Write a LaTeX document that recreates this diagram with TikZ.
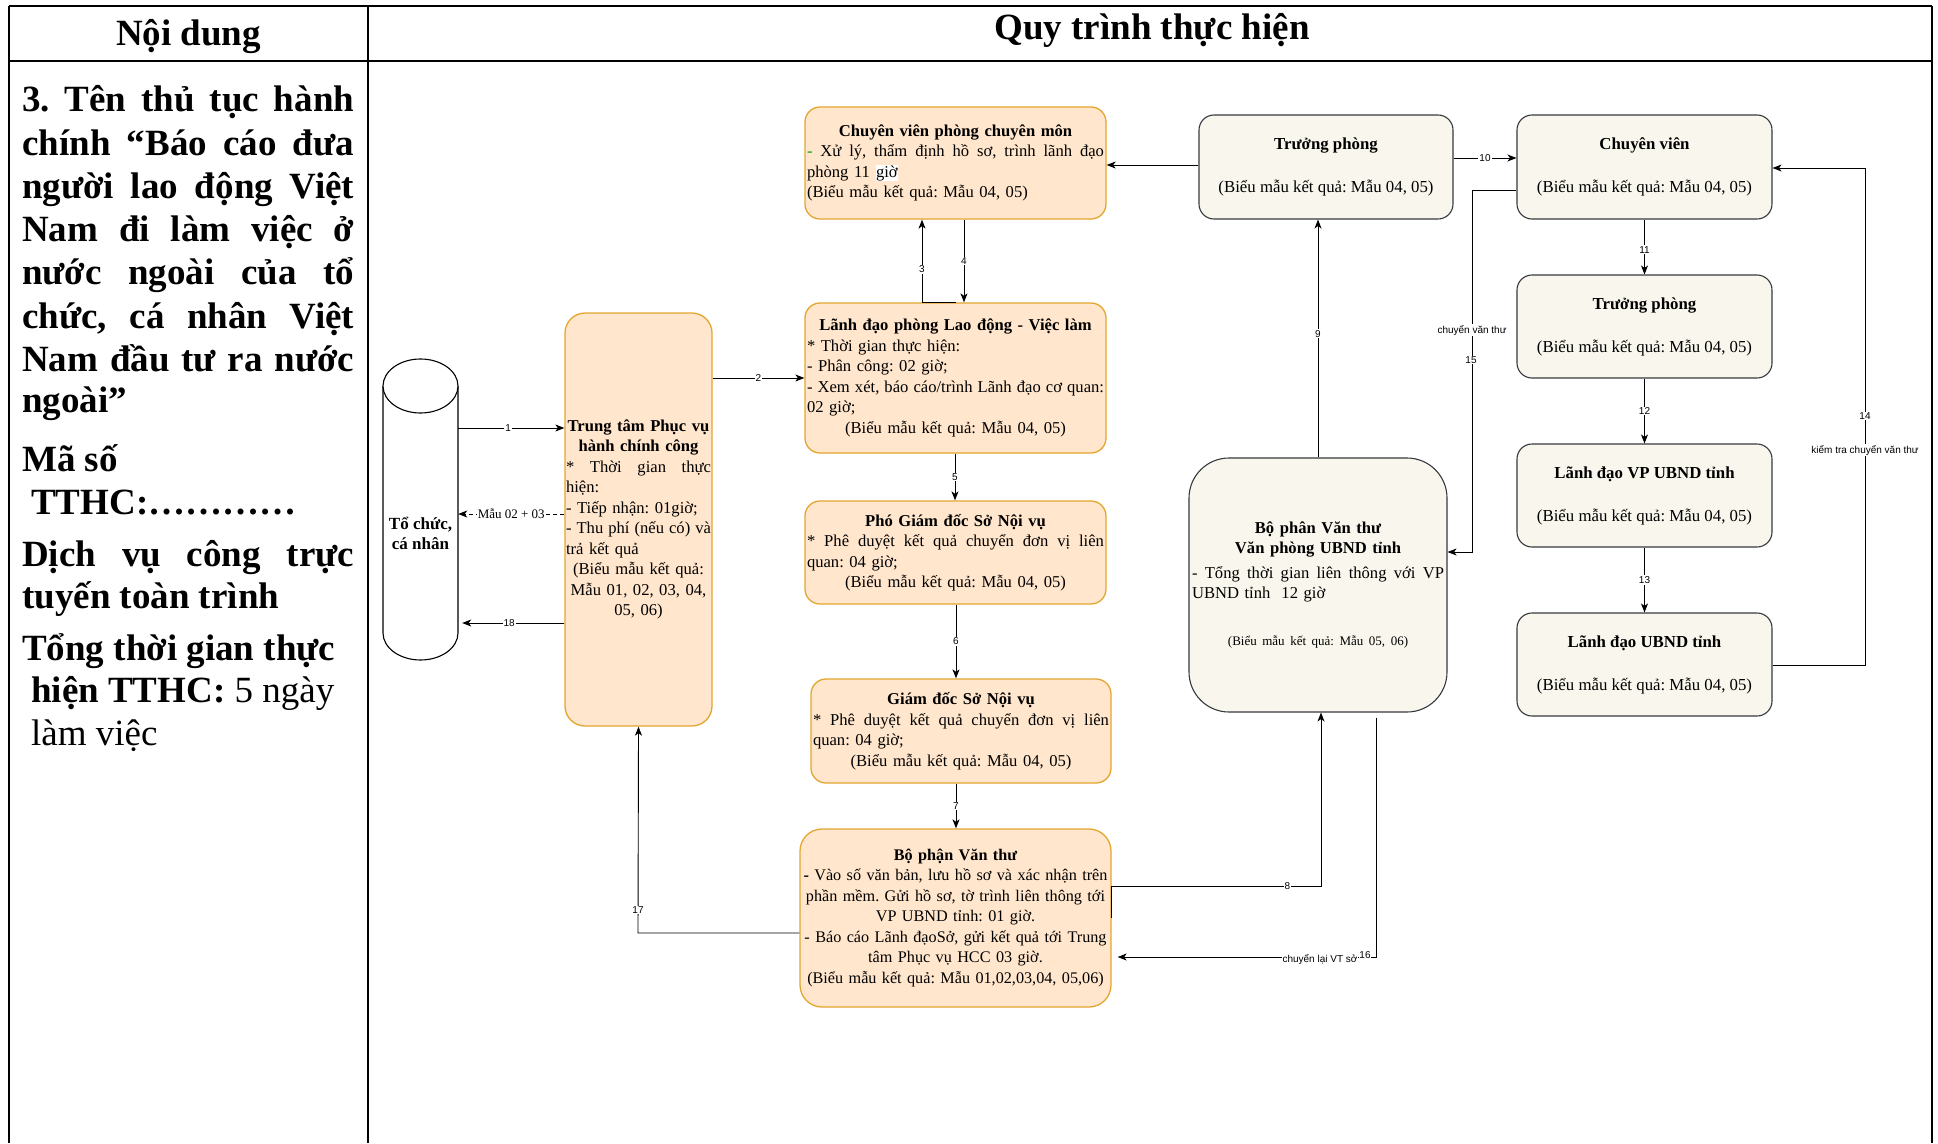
\documentclass[tikz,border=0pt]{standalone}
\usepackage{fontspec}
\setmainfont{Liberation Serif}
\setsansfont{Liberation Sans}
\usetikzlibrary{arrows.meta}

\definecolor{peach}{HTML}{FFE6CC}
\definecolor{gold}{HTML}{E3A630}
\definecolor{paper}{HTML}{F9F7ED}
\definecolor{slate}{HTML}{36393D}
\definecolor{dashgreen}{HTML}{00A000}

% width of the text lines inside the current box
\newlength{\bw}
% one line of a box text: spread (with stretchable spaces), centred, flush left
\newcommand{\lnj}[1]{{\spaceskip=\fontdimen2\font plus 1fil\xspaceskip=\spaceskip\makebox[\bw][s]{#1}}}
\newcommand{\lnc}[1]{\makebox[\bw][c]{#1}}
\newcommand{\lnl}[1]{\makebox[\bw][l]{#1}}
% a line of the left column, spread to the column width
\newcommand{\colj}[1]{\makebox[332pt][s]{#1}}

\frenchspacing
\begin{document}
\begin{tikzpicture}[x=1pt,y=-1pt,
  tw/.style={text width=#1pt, execute at begin node={\setlength{\bw}{#1pt}}},
  orangebox/.style={draw=gold, fill=peach, line width=1.3pt, rounded corners=15pt,
    inner sep=0pt, align=left, font=\fontsize{16.6}{20.5}\selectfont},
  graybox/.style={draw=slate, fill=paper, line width=1.1pt, rounded corners=15pt,
    inner sep=0pt, align=center, font=\fontsize{16.8}{21.5}\selectfont},
  link/.style={draw=black, line width=0.9pt, -{Stealth[length=9pt,width=7pt,inset=2.5pt]}},
  plain/.style={draw=black, line width=0.9pt},
  lab/.style={font=\sffamily\fontsize{10}{12}\selectfont, fill=white, inner sep=1pt},
  grid/.style={draw=black, line width=1.8pt},
  coltext/.style={anchor=base west, inner sep=0pt, font=\fontsize{37}{43}\selectfont},
]
\useasboundingbox (0,0) rectangle (1938,1143);

% ---------- table frame ----------
\draw[grid] (9,6) -- (1932,6);
\draw[grid] (9,61) -- (1932,61);
\draw[grid] (9,6) -- (9,1143);
\draw[grid] (368,6) -- (368,1143);
\draw[grid] (1932,6) -- (1932,1143);

\node[anchor=base, inner sep=0pt, font=\fontsize{37}{43}\selectfont\bfseries] (hleft) at (188.5,45) {Nội dung};
\node[anchor=base, inner sep=0pt, font=\fontsize{37}{43}\selectfont\bfseries] (hright) at (1152,39) {Quy trình thực hiện};

% ---------- left column ----------
\node[coltext] (c1) at (22,111) {\bfseries\colj{3. Tên thủ tục hành}};
\node[coltext] (c2) at (22,155) {\bfseries\colj{chính “Báo cáo đưa}};
\node[coltext] (c3) at (22,198) {\bfseries\colj{người lao động Việt}};
\node[coltext] (c4) at (22,241) {\bfseries\colj{Nam đi làm việc ở}};
\node[coltext] (c5) at (22,284) {\bfseries\colj{nước ngoài của tổ}};
\node[coltext] (c6) at (22,328) {\bfseries\colj{chức, cá nhân Việt}};
\node[coltext] (c7) at (22,371) {\bfseries\colj{Nam đầu tư ra nước}};
\node[coltext] (c8) at (22,412) {\bfseries ngoài”};
\node[coltext] (c9) at (22,471) {\bfseries Mã số};
\node[coltext] (c10) at (31,514) {\bfseries TTHC:…………};
\node[coltext] (c11) at (22,566) {\bfseries\colj{Dịch vụ công trực}};
\node[coltext] (c12) at (22,608) {\bfseries tuyến toàn trình};
\node[coltext] (c13) at (22,660) {\bfseries Tổng thời gian thực};
\node[coltext] (c14) at (31,702) {\textbf{hiện TTHC:} 5 ngày};
\node[coltext] (c15) at (31,745) {làm việc};

% ---------- applicant (cylinder) ----------
\node[minimum width=75, minimum height=301, inner sep=0pt] (cyl) at (420.5,510) {};
\draw[line width=1.1pt, fill=white] (383,386) -- (383,633)
  arc[start angle=180, end angle=360, x radius=37.5pt, y radius=27pt] -- (458,386);
\draw[line width=1.1pt, fill=white] (420.5,386) ellipse[x radius=37.5pt, y radius=27pt];
\node[align=center, inner sep=0pt, font=\fontsize{17}{20}\selectfont\bfseries] (cyltext) at (420.5,533) {Tổ chức,\\cá nhân};

% ---------- department boxes ----------
\node[orangebox, rounded corners=20pt, minimum width=147, minimum height=413, tw=145] (tt) at (638.5,519.5) {%
\lnc{\bfseries Trung tâm Phục vụ}\\
\lnc{\bfseries hành chính công}\\
\lnj{* Thời gian thực}\\
\lnl{hiện:}\\
\lnl{- Tiếp nhận: 01giờ;}\\
\lnj{- Thu phí (nếu có) và}\\
\lnl{trả kết quả}\\
\lnc{(Biểu mẫu kết quả:}\\
\lnc{Mẫu 01, 02, 03, 04,}\\
\lnc{05, 06)}};

\node[orangebox, minimum width=301, minimum height=112, tw=297] (cv) at (955.5,163) {%
\lnc{\bfseries Chuyên viên phòng chuyên môn}\\
\lnj{\textcolor{dashgreen}{-} Xử lý, thẩm định hồ sơ, trình lãnh đạo}\\
\lnl{phòng 11 {\fboxsep=0.5pt\colorbox{white}{giờ}}}\\
\lnl{(Biểu mẫu kết quả: Mẫu 04, 05)}};

\node[orangebox, minimum width=301, minimum height=150, tw=297] (ld) at (955.5,378) {%
\lnc{\bfseries Lãnh đạo phòng Lao động - Việc làm}\\
\lnl{* Thời gian thực hiện:}\\
\lnl{- Phân công: 02 giờ;}\\
\lnj{- Xem xét, báo cáo/trình Lãnh đạo cơ quan:}\\
\lnl{02 giờ;}\\
\lnc{(Biểu mẫu kết quả: Mẫu 04, 05)}};

\node[orangebox, minimum width=301, minimum height=103, tw=297] (pgd) at (955.5,552.5) {%
\lnc{\bfseries Phó Giám đốc Sở Nội vụ}\\
\lnj{* Phê duyệt kết quả chuyển đơn vị liên}\\
\lnl{quan: 04 giờ;}\\
\lnc{(Biểu mẫu kết quả: Mẫu 04, 05)}};

\node[orangebox, minimum width=300, minimum height=104, tw=296] (gd) at (961,731) {%
\lnc{\bfseries Giám đốc Sở Nội vụ}\\
\lnj{* Phê duyệt kết quả chuyển đơn vị liên}\\
\lnl{quan: 04 giờ;}\\
\lnc{(Biểu mẫu kết quả: Mẫu 04, 05)}};

\node[orangebox, rounded corners=22pt, minimum width=311, minimum height=178, tw=305,
  font=\fontsize{16.2}{20.5}\selectfont] (vt) at (955.5,918) {%
\lnc{\bfseries Bộ phận Văn thư}\\
\lnc{\textbf{-} Vào số văn bản, lưu hồ sơ và xác nhận trên}\\
\lnc{phần mềm. Gửi hồ sơ, tờ trình liên thông tới}\\
\lnc{VP UBND tỉnh: 01 giờ.}\\
\lnc{- Báo cáo Lãnh đạoSở, gửi kết quả tới Trung}\\
\lnc{tâm Phục vụ HCC 03 giờ.}\\
\lnc{(Biểu mẫu kết quả: Mẫu 01,02,03,04, 05,06)}};

% ---------- provincial office boxes ----------
\node[graybox, minimum width=254, minimum height=104] (tp1) at (1326,167) {%
\textbf{Trưởng phòng}\\[21.5pt](Biểu mẫu kết quả: Mẫu 04, 05)};

\node[graybox, rounded corners=40pt, minimum width=258, minimum height=254, tw=252, align=left,
  font=\fontsize{16.6}{20.5}\selectfont] (vp) at (1318,585) {%
\lnc{\bfseries Bộ phân Văn thư}\\
\lnc{\bfseries Văn phòng UBND tỉnh}\\[4pt]
\lnj{- Tổng thời gian liên thông với VP}\\
\lnl{UBND tỉnh\ \ 12 giờ}\\[26pt]
\lnc{\fontsize{13}{16}\selectfont(Biểu mẫu kết quả: Mẫu 05, 06)}};

\node[graybox, minimum width=255, minimum height=104] (cvr) at (1644.5,167) {%
\textbf{Chuyên viên}\\[21.5pt](Biểu mẫu kết quả: Mẫu 04, 05)};
\node[graybox, minimum width=255, minimum height=103] (tpr) at (1644.5,326.5) {%
\textbf{Trưởng phòng}\\[21.5pt](Biểu mẫu kết quả: Mẫu 04, 05)};
\node[graybox, minimum width=255, minimum height=103] (ldvp) at (1644.5,495.5) {%
\textbf{Lãnh đạo VP UBND tỉnh}\\[21.5pt](Biểu mẫu kết quả: Mẫu 04, 05)};
\node[graybox, minimum width=255, minimum height=103] (ldu) at (1644.5,664.5) {%
\textbf{Lãnh đạo UBND tỉnh}\\[21.5pt](Biểu mẫu kết quả: Mẫu 04, 05)};

% ---------- connectors ----------
\draw[link] (cyl.east |- 0,428) -- node[lab, pos=0.47] {1} (tt.west |- 0,428);
\draw[link, dashed, dash pattern=on 4pt off 3pt] (tt.west |- 0,514) -- node[lab, font=\rmfamily\fontsize{13}{15}\selectfont, inner sep=0.5pt] {Mẫu 02 + 03} (cyl.east |- 0,514);
\draw[link, shorten >=4pt] (tt.west |- 0,623) -- node[lab, pos=0.52] {18} (cyl.east |- 0,623);

\draw[link] (tt.east |- 0,378) -- node[lab] {2} (ld.west |- 0,378);
\draw[plain] (ld.north -| 956,0) -- (ld.north -| 922,0);
\draw[link] (ld.north -| 922,0) -- node[lab, pos=0.4] {3} (cv.south -| 922,0);
\draw[link] (cv.south -| 964,0) -- node[lab, pos=0.5] {4} (ld.north -| 964,0);
\draw[link] (ld.south -| 955,0) -- node[lab] {5} (pgd.north -| 955,0);
\draw[link] (pgd.south -| 956,0) -- node[lab] {6} (gd.north -| 956,0);
\draw[link] (gd.south -| 956,0) -- node[lab] {7} (vt.north -| 956,0);

\draw[link] (vt.east |- 0,918) -- (vt.east |- 0,886) -- node[lab, pos=0.84] {8} (1321,886) -- (vp.south -| 1321,0);
\draw[link] (vp.north -| 1318,0) -- node[lab, pos=0.52] {9} (tp1.south -| 1318,0);
\draw[link] (tp1.west |- 0,165) -- (cv.east |- 0,165);
\draw[link] (tp1.east |- 0,158) -- node[lab] {10} (cvr.west |- 0,158);
\draw[link] (cvr.west |- 0,190) -- (1472,190) -- (1472,552) -- (vp.east |- 0,552);
\node[lab] (l15a) at (1472,330) {chuyển văn thư};
\node[lab] (l15b) at (1471,360) {15};

\draw[link] (cvr.south) -- node[lab, pos=0.55] {11} (tpr.north);
\draw[link] (tpr.south) -- node[lab, pos=0.5] {12} (ldvp.north);
\draw[link] (ldvp.south) -- node[lab, pos=0.5] {13} (ldu.north);
\draw[link] (ldu.east |- 0,665) -- (1865,665) -- (1865,168) -- (cvr.east |- 0,168);
\node[lab] (l14a) at (1865,416) {14};
\node[lab] (l14b) at (1865,450) {kiểm tra chuyển văn thư};

\draw[link, shorten >=6pt] (vp.south -| 1376,0) ++(0,5) -- (1376,957) -- (vt.east |- 0,957);
\node[lab, inner sep=0.5pt] (l16a) at (1320,959) {chuyển lại VT sở};
\node[lab, inner sep=0.5pt] (l16b) at (1365,955) {16};

\draw[link] (vt.west |- 0,933) -- (638,933) -- (tt.south);
\node[lab] (l17) at (638,910) {17};
\end{tikzpicture}
\end{document}
